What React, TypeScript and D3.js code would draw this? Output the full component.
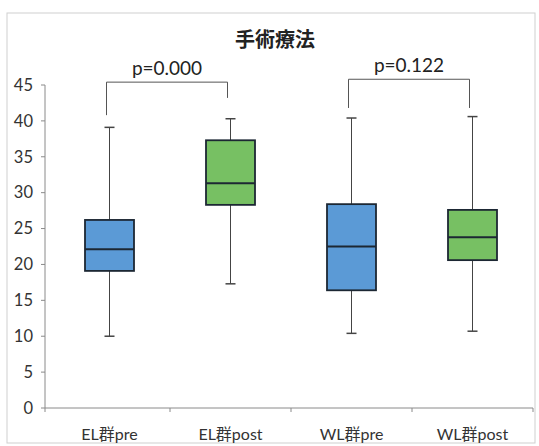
import React from "react";
import * as d3 from "d3";

const categories = ["EL群pre", "EL群post", "WL群pre", "WL群post"];
const groupColor = ["blue", "green", "blue", "green"];
const whiskerLow = [10.0, 17.3, 10.4, 10.7];
const q1 = [19.1, 28.3, 16.4, 20.6];
const median = [22.1, 31.3, 22.5, 23.8];
const q3 = [26.2, 37.3, 28.4, 27.6];
const whiskerHigh = [39.1, 40.3, 40.4, 40.6];
const yTicks = [0, 5, 10, 15, 20, 25, 30, 35, 40, 45];
const title = "手術療法";
const bracketLabels = ["p=0.000", "p=0.122"];
const bracketFrom = [0, 2];
const bracketTo = [1, 3];
const bracketTop = [45.4, 45.8];
const bracketLeftEnd = [40.8, 41.8];
const bracketRightEnd = [43.2, 41.8];

const W = 539;
const H = 446;
const FONT = "Lato, 'Noto Sans CJK JP', sans-serif";
const COLORS: Record<string, string> = { blue: "#5b9ad6", green: "#77c063" };

export default function App() {
  const y = d3.scaleLinear().domain([0, 45]).range([408, 85]);
  const x = d3.scaleBand().domain(categories).range([49, 533]).paddingInner(0).paddingOuter(0);
  const boxW = 49;
  const capW = 10;
  const cx = (i: number) => (x(categories[i]) as number) + x.bandwidth() / 2;
  const boundaries = [...categories.map((c) => x(c) as number), 533];

  return (
    <svg width={W} height={H} style={{ position: "absolute", left: 0, top: 0, background: "#fff" }}>
      <rect x={0} y={0} width={W} height={H} fill="#fff" />
      <rect x={7} y={13} width={528} height={430} fill="none" stroke="#cfcfcf" strokeWidth={1} />
      <text x={275} y={47} textAnchor="middle" fontFamily={FONT} fontWeight="bold" fontSize={20} fill="#222">
        {title}
      </text>
      {/* y axis */}
      <line x1={45} x2={45} y1={y(45)} y2={y(0) + 4} stroke="#8a8a8a" strokeWidth={1} />
      {yTicks.map((t) => (
        <g key={t}>
          <line x1={41} x2={45} y1={y(t)} y2={y(t)} stroke="#8a8a8a" strokeWidth={1} />
          <text x={33} y={y(t)} dy="0.35em" textAnchor="end" fontFamily={FONT} fontSize={16.5} fill="#333">
            {t}
          </text>
        </g>
      ))}
      {/* x axis */}
      <line x1={45} x2={533} y1={y(0)} y2={y(0)} stroke="#8a8a8a" strokeWidth={1} />
      {boundaries.slice(1).map((b, i) => (
        <line key={i} x1={b} x2={b} y1={y(0)} y2={y(0) + 4} stroke="#8a8a8a" strokeWidth={1} />
      ))}
      {categories.map((c, i) => (
        <text key={c} x={cx(i)} y={440} textAnchor="middle" fontFamily={FONT} fontSize={16} fill="#333">
          {c}
        </text>
      ))}
      {/* boxes */}
      {categories.map((c, i) => {
        const xc = cx(i);
        return (
          <g key={c}>
            <line x1={xc} x2={xc} y1={y(whiskerHigh[i])} y2={y(q3[i])} stroke="#444" strokeWidth={1} />
            <line x1={xc} x2={xc} y1={y(q1[i])} y2={y(whiskerLow[i])} stroke="#444" strokeWidth={1} />
            <line x1={xc - capW / 2} x2={xc + capW / 2} y1={y(whiskerHigh[i])} y2={y(whiskerHigh[i])} stroke="#444" strokeWidth={1.5} />
            <line x1={xc - capW / 2} x2={xc + capW / 2} y1={y(whiskerLow[i])} y2={y(whiskerLow[i])} stroke="#444" strokeWidth={1.5} />
            <rect
              x={xc - boxW / 2}
              y={y(q3[i])}
              width={boxW}
              height={y(q1[i]) - y(q3[i])}
              fill={COLORS[groupColor[i]]}
              stroke="#1c2733"
              strokeWidth={1.8}
            />
            <line x1={xc - boxW / 2} x2={xc + boxW / 2} y1={y(median[i])} y2={y(median[i])} stroke="#1c2733" strokeWidth={2} />
          </g>
        );
      })}
      {/* brackets */}
      {bracketLabels.map((lab, k) => {
        const x1 = cx(bracketFrom[k]) - 3;
        const x2 = cx(bracketTo[k]) - 3;
        const yt = y(bracketTop[k]);
        const path = `M${x1},${y(bracketLeftEnd[k])}V${yt}H${x2}V${y(bracketRightEnd[k])}`;
        return (
          <g key={lab}>
            <path d={path} fill="none" stroke="#555" strokeWidth={1} />
            <text x={(x1 + x2) / 2} y={yt - 7} textAnchor="middle" fontFamily={FONT} fontSize={19} fill="#222">
              {lab}
            </text>
          </g>
        );
      })}
    </svg>
  );
}
